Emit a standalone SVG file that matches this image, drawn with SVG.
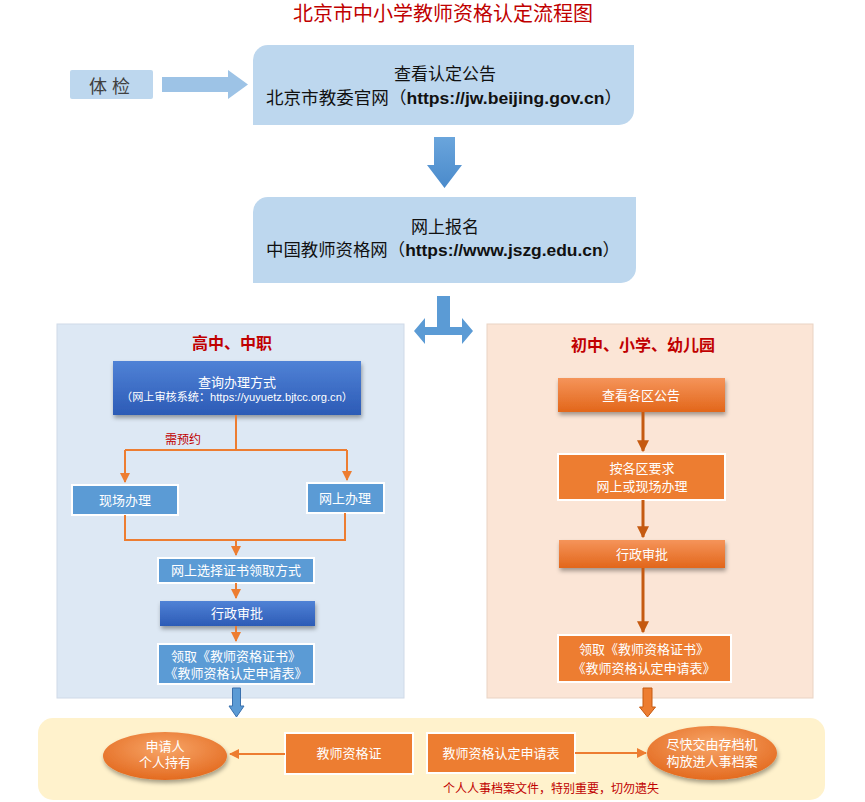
<svg xmlns="http://www.w3.org/2000/svg" width="865" height="802" viewBox="0 0 865 802">
<defs>
<style>
text{font-family:"Liberation Sans","Noto Sans CJK SC",sans-serif;text-anchor:middle}
.w{fill:#fff;font-size:13px}
.dk{fill:#111;font-size:17px}
.red{fill:#c00000}
.lb{fill:#bdd7ee}
.mb{fill:#5b9bd5;stroke:#fff;stroke-width:2}
.ob{fill:#ed7d31;stroke:#fff;stroke-width:2}
.oline{stroke:#ed7d31;stroke-width:2;fill:none}
.bline{stroke:#c55a11;stroke-width:3;fill:none}
</style>
<linearGradient id="gBlue" x1="0" y1="0" x2="0" y2="1"><stop offset="0" stop-color="#5082d6"/><stop offset="1" stop-color="#2c5bb6"/></linearGradient>
<linearGradient id="gOr" x1="0" y1="0" x2="0" y2="1"><stop offset="0" stop-color="#f5945a"/><stop offset="1" stop-color="#e2661a"/></linearGradient>
<radialGradient id="gEl" cx="0.5" cy="0.35" r="0.7"><stop offset="0" stop-color="#f7a568"/><stop offset="1" stop-color="#e2661a"/></radialGradient>
<linearGradient id="gArr" x1="0" y1="0" x2="0" y2="1"><stop offset="0" stop-color="#6aa5dc"/><stop offset="1" stop-color="#4a8acb"/></linearGradient>
<filter id="sh" x="-10%" y="-20%" width="120%" height="150%"><feDropShadow dx="1" dy="3" stdDeviation="2" flood-color="#000" flood-opacity="0.35"/></filter>
<marker id="ao" viewBox="0 0 10 10" refX="9" refY="5" markerWidth="5" markerHeight="5" orient="auto"><path d="M0,0 L10,5 L0,10 z" fill="#ed7d31"/></marker>
<marker id="ab" viewBox="0 0 10 10" refX="9" refY="5" markerWidth="4" markerHeight="4" orient="auto"><path d="M0,0 L10,5 L0,10 z" fill="#c55a11"/></marker>
</defs>
<rect width="865" height="802" fill="#fff"/>
<text x="443" y="21" class="red" style="font-size:20px">北京市中小学教师资格认定流程图</text>

<!-- panels -->
<rect x="57" y="324" width="347" height="374" fill="#dde8f4" stroke="#cfdae8" stroke-width="1"/>
<rect x="487" y="324" width="326" height="374" fill="#fbe5d6" stroke="#e9d3c4" stroke-width="1"/>
<rect x="38" y="718" width="787" height="82" rx="15" fill="#fff2cc"/>
<text x="232" y="349" class="red" style="font-size:16px;font-weight:bold">高中、中职</text>
<text x="643" y="351" class="red" style="font-size:16px;font-weight:bold">初中、小学、幼儿园</text>

<g id="tijian"><rect x="70" y="70" width="83" height="29" class="lb" rx="2"/><text x="112" y="93" style="font-size:18px;fill:#404040;letter-spacing:5px">体检</text></g>

<g id="gonggao"><path d="M268,45 H634 V110 A15,15 0 0 1 619,125 H253 V60 A15,15 0 0 1 268,45 Z" class="lb"/>
<text x="445" y="80" class="dk">查看认定公告</text>
<text x="444" y="104" class="dk" textLength="356" lengthAdjust="spacingAndGlyphs">北京市教委官网（<tspan style="font-weight:bold">https://jw.beijing.gov.cn</tspan>）</text></g>

<g id="baoming"><path d="M268,197 H636 V268 A15,15 0 0 1 621,283 H253 V212 A15,15 0 0 1 268,197 Z" class="lb"/>
<text x="445" y="233" class="dk">网上报名</text>
<text x="443" y="256" class="dk" textLength="354" lengthAdjust="spacingAndGlyphs">中国教师资格网（<tspan style="font-weight:bold">https://www.jszg.edu.cn</tspan>）</text></g>

<!-- left panel nodes -->
<g id="chaxun"><rect x="113" y="361" width="248" height="54" fill="url(#gBlue)" filter="url(#sh)"/>
<text x="237" y="387" class="w">查询办理方式</text>
<text x="237" y="401" class="w" style="font-size:11px" textLength="232" lengthAdjust="spacingAndGlyphs">（网上审核系统：https://yuyuetz.bjtcc.org.cn）</text></g>
<g id="xianchang"><rect x="72" y="485" width="106" height="30" class="mb"/><text x="125" y="505" class="w">现场办理</text></g>
<g id="wangshang"><rect x="307" y="483" width="77" height="30" class="mb"/><text x="345" y="503" class="w">网上办理</text></g>
<g id="xuanze"><rect x="158" y="558" width="156" height="25" class="mb"/><text x="236" y="575" class="w">网上选择证书领取方式</text></g>
<g id="shenpi1"><rect x="160" y="601" width="155" height="25" fill="url(#gBlue)" filter="url(#sh)"/><text x="237" y="618" class="w">行政审批</text></g>
<g id="lingqu1"><rect x="158" y="644" width="156" height="40" class="mb"/><text x="236" y="661" class="w">领取《教师资格证书》</text><text x="236" y="678" class="w">《教师资格认定申请表》</text></g>

<!-- right panel nodes -->
<g id="gequ"><rect x="558" y="378" width="167" height="34" fill="url(#gOr)" filter="url(#sh)"/><text x="641" y="400" class="w">查看各区公告</text></g>
<g id="anqu"><rect x="558" y="454" width="167" height="46" class="ob"/><text x="642" y="473" class="w">按各区要求</text><text x="642" y="491" class="w">网上或现场办理</text></g>
<g id="shenpi2"><rect x="559" y="540" width="166" height="28" fill="url(#gOr)" filter="url(#sh)"/><text x="642" y="559" class="w">行政审批</text></g>
<g id="lingqu2"><rect x="558" y="635" width="173" height="47" class="ob"/><text x="644" y="654" class="w">领取《教师资格证书》</text><text x="644" y="673" class="w">《教师资格认定申请表》</text></g>

<!-- bottom nodes -->
<g id="shenqingren"><ellipse cx="165" cy="756" rx="62" ry="24" fill="url(#gEl)" filter="url(#sh)"/><text x="165" y="751" class="w">申请人</text><text x="165" y="767" class="w">个人持有</text></g>
<g id="zigezheng"><rect x="285" y="733" width="128" height="41" class="ob"/><text x="349" y="758" class="w">教师资格证</text></g>
<g id="shenqingbiao"><rect x="427" y="733" width="148" height="40" class="ob"/><text x="501" y="758" class="w">教师资格认定申请表</text></g>
<g id="dangan"><ellipse cx="712" cy="753" rx="65" ry="27" fill="url(#gEl)" filter="url(#sh)"/><text x="712" y="749" class="w">尽快交由存档机</text><text x="712" y="766" class="w">构放进人事档案</text></g>
<text x="551" y="793" class="red" style="font-size:12px">个人人事档案文件，特别重要，切勿遗失</text>

<g id="connectors">
<path d="M162,77 H228 V70 L248,84.5 L228,99 V92 H162 Z" fill="#9dc3e6"/>
<path d="M434,137 H455 V165 H462 L444.5,188 L427,165 H434 Z" fill="url(#gArr)"/>
<path d="M437,296 H450 V327 H462 V318 L473,331 L462,344 V335 H425 V344 L414,331 L425,318 V327 H437 Z" fill="#5b9bd5"/>
<path d="M236,415 V450 M125,450 H347" class="oline"/>
<path d="M125,450 V482" class="oline" marker-end="url(#ao)"/>
<path d="M347,450 V480" class="oline" marker-end="url(#ao)"/>
<text x="183" y="444" class="red" style="font-size:12px">需预约</text>
<path d="M125,515 V540 H345 V513" class="oline"/>
<path d="M236,540 V555" class="oline" marker-end="url(#ao)"/>
<path d="M236,583 V598" class="oline" marker-end="url(#ao)"/>
<path d="M236,626 V641" class="oline" marker-end="url(#ao)"/>
<path d="M232.5,688 H240.5 V706 H244 L236.5,717 L229,706 H232.5 Z" fill="#5b9bd5" stroke="#3a70ad" stroke-width="1"/>
<path d="M643,412 V451" class="bline" marker-end="url(#ab)"/>
<path d="M643,500 V537" class="bline" marker-end="url(#ab)"/>
<path d="M643,568 V632" class="bline" marker-end="url(#ab)"/>
<path d="M643,688 H652 V707 H655.5 L647.5,717 L639.5,707 H643 Z" fill="#ed7d31" stroke="#c55a11" stroke-width="1"/>
<path d="M285,754 H230" class="oline" marker-end="url(#ao)"/>
<path d="M575,753 H646" class="oline" marker-end="url(#ao)"/>
</g>
</svg>
